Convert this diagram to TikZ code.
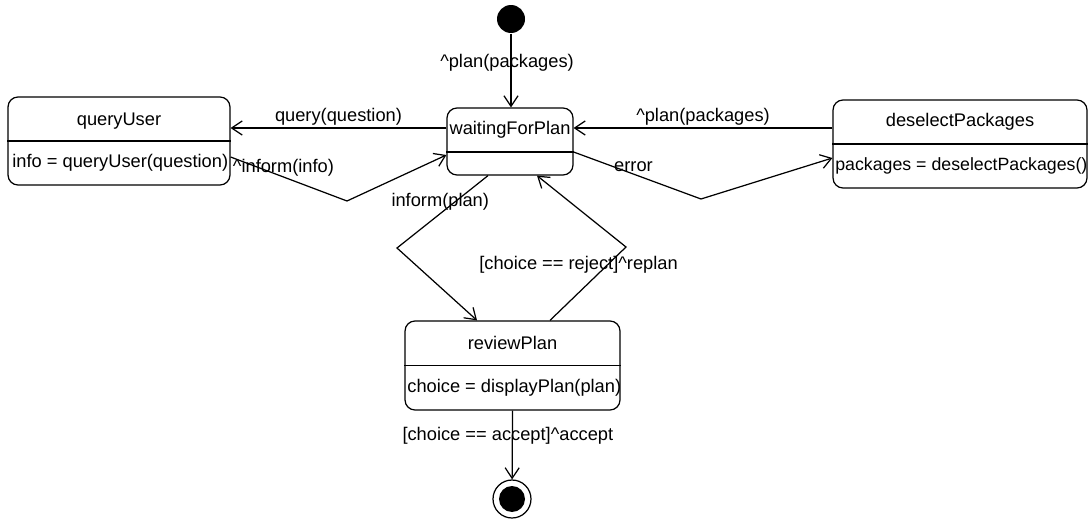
\documentclass[tikz,border=0pt]{standalone}
\usepackage{fontspec}
\setmainfont{Liberation Sans}
\usetikzlibrary{arrows.meta}

\tikzset{
  statebox/.style={draw, rounded corners=0.2cm, inner sep=0pt},
  lbl/.style={inner sep=1pt},
}

\begin{document}
\begin{tikzpicture}[x=0.02cm, y=-0.02cm, line width=0.7pt,
    >={Straight Barb[length=6pt, width=8pt]},
    every node/.style={font=\fontsize{10.4}{12}\selectfont}]
    \useasboundingbox (0, 0) rectangle (1089, 527);

    % states
    \node[circle, fill, minimum size=0.56cm, inner sep=0pt] (start) at (511, 19) {};
    \node[statebox, minimum width=4.44cm, minimum height=1.76cm] (Query) at (119, 141) {};
    \node[statebox, minimum width=2.52cm, minimum height=1.34cm] (Wait) at (510, 141.5) {};
    \node[statebox, minimum width=5.08cm, minimum height=1.76cm] (Deselect) at (960, 144) {};
    \node[statebox, minimum width=4.3cm, minimum height=1.78cm] (Review) at (512.5, 365.5) {};
    \node[circle, draw, minimum size=0.76cm, inner sep=0pt] (stop) at (512, 499) {};
    \node[circle, fill, minimum size=0.52cm, inner sep=0pt] (stopDot) at (512, 499) {};

    \draw (Query.west) -- (Query.east);
    \draw ([yshift=-0.21cm]Wait.west) -- ([yshift=-0.21cm]Wait.east);
    \draw (Deselect.west) -- (Deselect.east);
    \draw (Review.west) -- (Review.east);

    \node[lbl] (queryName) at (119, 121) {queryUser};
    \node[lbl, anchor=west] (queryDo) at (10, 163) {info = queryUser(question)};
    \node[lbl] (waitName) at (510, 130) {waitingForPlan};
    \node[lbl] (deselectName) at (960, 122) {deselectPackages};
    \node[lbl, anchor=west, font=\fontsize{10.1}{12}\selectfont] (deselectDo) at (833, 166) {packages = deselectPackages()};
    \node[lbl] (reviewName) at (512.5, 343) {reviewPlan};
    \node[lbl, anchor=west] (reviewDo) at (405, 388) {choice = displayPlan(plan)};

    % bends
    \coordinate (infoBend) at (347, 201);
    \coordinate (errorBend) at (701, 199);
    \coordinate (planBend) at (397, 248);
    \coordinate (rejectBend) at (626, 247);

    % transitions
    \draw[->] (start) -- (start |- Wait.north) node[lbl, pos=0.4, xshift=-0.08cm] {\textasciicircum plan(packages)};
    \draw[->] ([yshift=0.27cm]Wait.west) -- ([yshift=0.27cm]Wait.west -| Query.east) node[lbl, midway, above] {query(question)};
    \draw[->] ([yshift=0.32cm]Deselect.west) -- ([yshift=0.32cm]Deselect.west -| Wait.east) node[lbl, midway, above] {\textasciicircum plan(packages)};
    \draw[->] ([yshift=-0.32cm]Query.east) node[lbl, anchor=north west] {\textasciicircum inform(info)} -- (infoBend) -- ([yshift=-0.27cm]Wait.west);
    \draw[->] ([yshift=-0.21cm]Wait.east) -- node[lbl, pos=0.47, above] {error} (errorBend) -- ([yshift=-0.28cm]Deselect.west);
    \draw[->] ([xshift=-0.44cm]Wait.south) -- node[lbl, pos=0.36, xshift=-0.3cm] {inform(plan)} (planBend) -- ([xshift=-0.71cm]Review.north);
    \draw[->] ([xshift=0.75cm]Review.north) -- node[lbl, pos=0.757, xshift=-0.58cm] {[choice == reject]\textasciicircum replan} (rejectBend) -- ([xshift=0.54cm]Wait.south);
    \draw[->] (Review.south) -- (stop) node[lbl, pos=0.37, xshift=-0.09cm] {[choice == accept]\textasciicircum accept};
\end{tikzpicture}
\end{document}
